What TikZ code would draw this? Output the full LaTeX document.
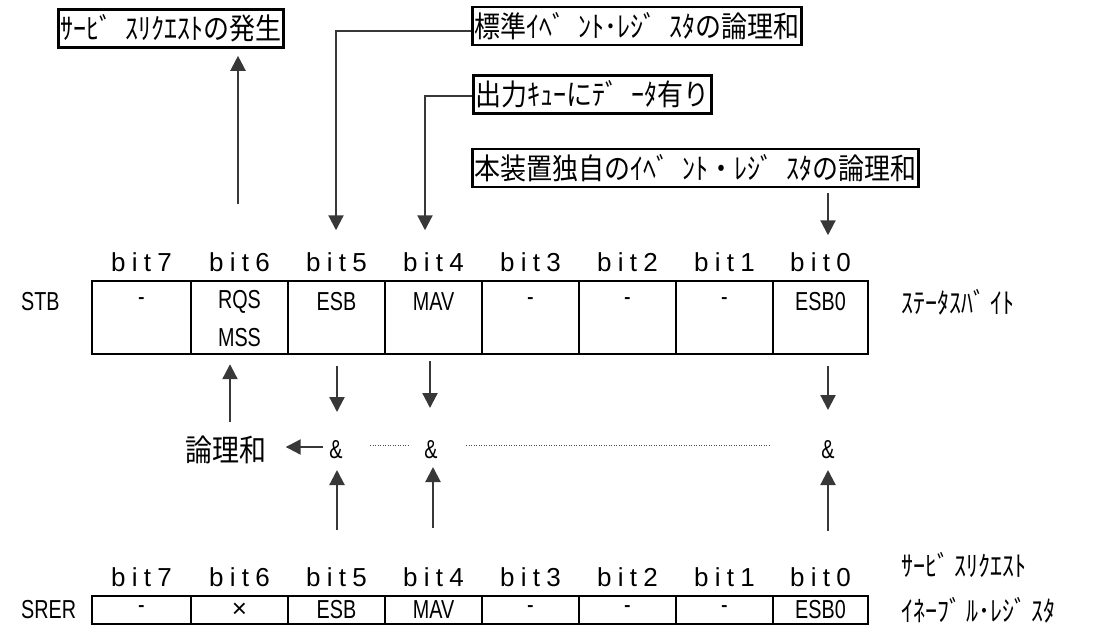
\documentclass[tikz,border=0pt]{standalone}
\usepackage{fontspec}
\usepackage{graphicx}
\setmainfont{Liberation Sans}
\newfontfamily\jp{Noto Sans CJK JP}
\newfontfamily\nar[FakeStretch=0.76]{Liberation Sans}
\newfontfamily\bitf[LetterSpace=24]{Liberation Sans}
\usetikzlibrary{arrows.meta,calc}
\newcommand\dk{ﾞ\kern.5em}
\newcommand\dks{ﾞ\kern.22em}
\newcommand\J[1]{\scalebox{1}[1.13]{#1}}
\begin{document}
\begin{tikzpicture}[x=1pt,y=-1pt,
  jbox/.style={draw, line width=2.6pt, inner xsep=2pt, inner ysep=0pt, minimum height=38pt,
    font=\jp\fontsize{26}{26}\selectfont, anchor=west},
  arr/.style={draw=black!78, line width=2.2pt, -{Triangle[length=15pt,width=15pt]}},
  cell/.style={draw, line width=2.4pt, inner sep=0pt},
  bitl/.style={font=\bitf\fontsize{26}{26}\selectfont, inner sep=0pt},
  ct/.style={font=\nar\fontsize{26}{26}\selectfont, inner sep=0pt},
  jlab/.style={font=\jp\fontsize{24}{24}\selectfont, inner sep=0pt, anchor=west},
  dot/.style={draw=black!70, line width=1pt, dash pattern=on 1pt off 1.5pt}]
\useasboundingbox (0,0) rectangle (1094,625);

% top boxes
\node[jbox] (b1) at (57,28.5) {\J{ｻｰﾋ\dk ｽﾘｸｴｽﾄの発生}};
\node[jbox] (b2) at (471,26) {\J{標準ｲﾍ\dk ﾝﾄ･ﾚｼ\dk ｽﾀの論理和}};
\node[jbox] (b3) at (472,94.5) {\J{出力ｷｭｰにﾃ\dk ｰﾀ有り}};
\node[jbox] (b4) at (471,168) {\J{本装置独自のｲﾍ\dk ﾝﾄ・ﾚｼ\dk ｽﾀの論理和}};

% STB
\node[ct, anchor=west] (stb) at (21,302) {STB};
\foreach \i/\x/\w in {7/141.5/99,6/239.5/97,5/336.5/97,4/433.5/97,3/530.5/97,2/627.5/97,1/724.5/97,0/820.5/95}{
  \node[bitl] (l\i) at (\x,262) {bit\i};
  \node[cell, minimum width=\w pt, minimum height=73pt] (s\i) at (\x,317.5) {};
  \node[bitl] (m\i) at (\x,577) {bit\i};
  \node[cell, minimum width=\w pt, minimum height=28pt] (r\i) at (\x,610) {};
}
\node[ct] (ts7) at (141.5,302) {-};
\node[ct] (ts6) at (239.5,302) {RQS};
\node[ct] (ts6b) at (239.5,338) {MSS};
\node[ct] (ts5) at (336.5,302) {ESB};
\node[ct] (ts4) at (433.5,302) {MAV};
\node[ct] (ts3) at (530.5,302) {-};
\node[ct] (ts2) at (627.5,302) {-};
\node[ct] (ts1) at (724.5,302) {-};
\node[ct] (ts0) at (820.5,302) {ESB0};
\node[jlab] (stbl) at (901,302) {\scalebox{1}[1.18]{ｽﾃｰﾀｽﾊ\dks ｲﾄ}};

% SRER
\node[ct, anchor=west] (srer) at (21,610) {SRER};
\node[ct] (tr7) at (141.5,610) {-};
\node[font=\fontsize{26}{26}\selectfont, inner sep=0pt] (tr6) at (239.5,610) {×};
\node[ct] (tr5) at (336.5,610) {ESB};
\node[ct] (tr4) at (433.5,610) {MAV};
\node[ct] (tr3) at (530.5,610) {-};
\node[ct] (tr2) at (627.5,610) {-};
\node[ct] (tr1) at (724.5,610) {-};
\node[ct] (tr0) at (820.5,610) {ESB0};
\node[jlab] (srl1) at (901,565) {\scalebox{1}[1.18]{ｻｰﾋ\dks ｽﾘｸｴｽﾄ}};
\node[jlab] (srl2) at (901,610) {\scalebox{1}[1.18]{ｲﾈｰﾌ\dks ﾙ･ﾚｼ\dks ｽﾀ}};

% middle
\node[font=\jp\fontsize{27}{27}\selectfont, inner sep=0pt] (ron) at (226,450) {\J{論理和}};
\node[ct] (and5) at (336,450) {\&};
\node[ct] (and4) at (431,450) {\&};
\node[ct] (and0) at (828,450) {\&};

% arrows top
\draw[arr] ($(l6.north)+(-1.5,-48)$) -- ($(b1.south -| l6.north)+(-1.5,7)$);
\draw[arr] ($(b2.west)+(0,5)$) -| ($(l5.north)+(-0.5,-22)$);
\draw[arr] ($(b3.west)+(0,1.5)$) -| ($(l4.north)+(-8.5,-22)$);
\draw[arr] ($(b4.south -| l0.north)+(7.5,5)$) -- ($(l0.north)+(7.5,-17)$);

% arrows middle
\draw[arr] ($(ron)+(4,-28)$) -- ($(s6.south)+(-9.5,9)$);
\draw[arr] ($(s5.south)+(0.5,11)$) -- ($(and5)+(1,-38)$);
\draw[arr] ($(s4.south)+(-3.5,6)$) -- ($(and4)+(-1,-42)$);
\draw[arr] ($(s0.south)+(7.5,11)$) -- ($(and0)+(0,-40)$);
\draw[arr] ($(and5)+(-13,-3)$) -- ($(ron.east)+(19,-3)$);
\draw[dot] ($(and5)+(34,-5)$) -- ($(and4)+(-21,-5)$);
\draw[dot] ($(and4)+(35,-5)$) -- ($(and0)+(-57,-5)$);

% arrows bottom
\draw[arr] ($(r5.north)+(0.5,-65)$) -- ($(and5)+(1,20)$);
\draw[arr] ($(r4.north)+(-0.5,-67)$) -- ($(and4)+(2,17)$);
\draw[arr] ($(r0.north)+(7.5,-64)$) -- ($(and0)+(0,20)$);
\end{tikzpicture}
\end{document}
